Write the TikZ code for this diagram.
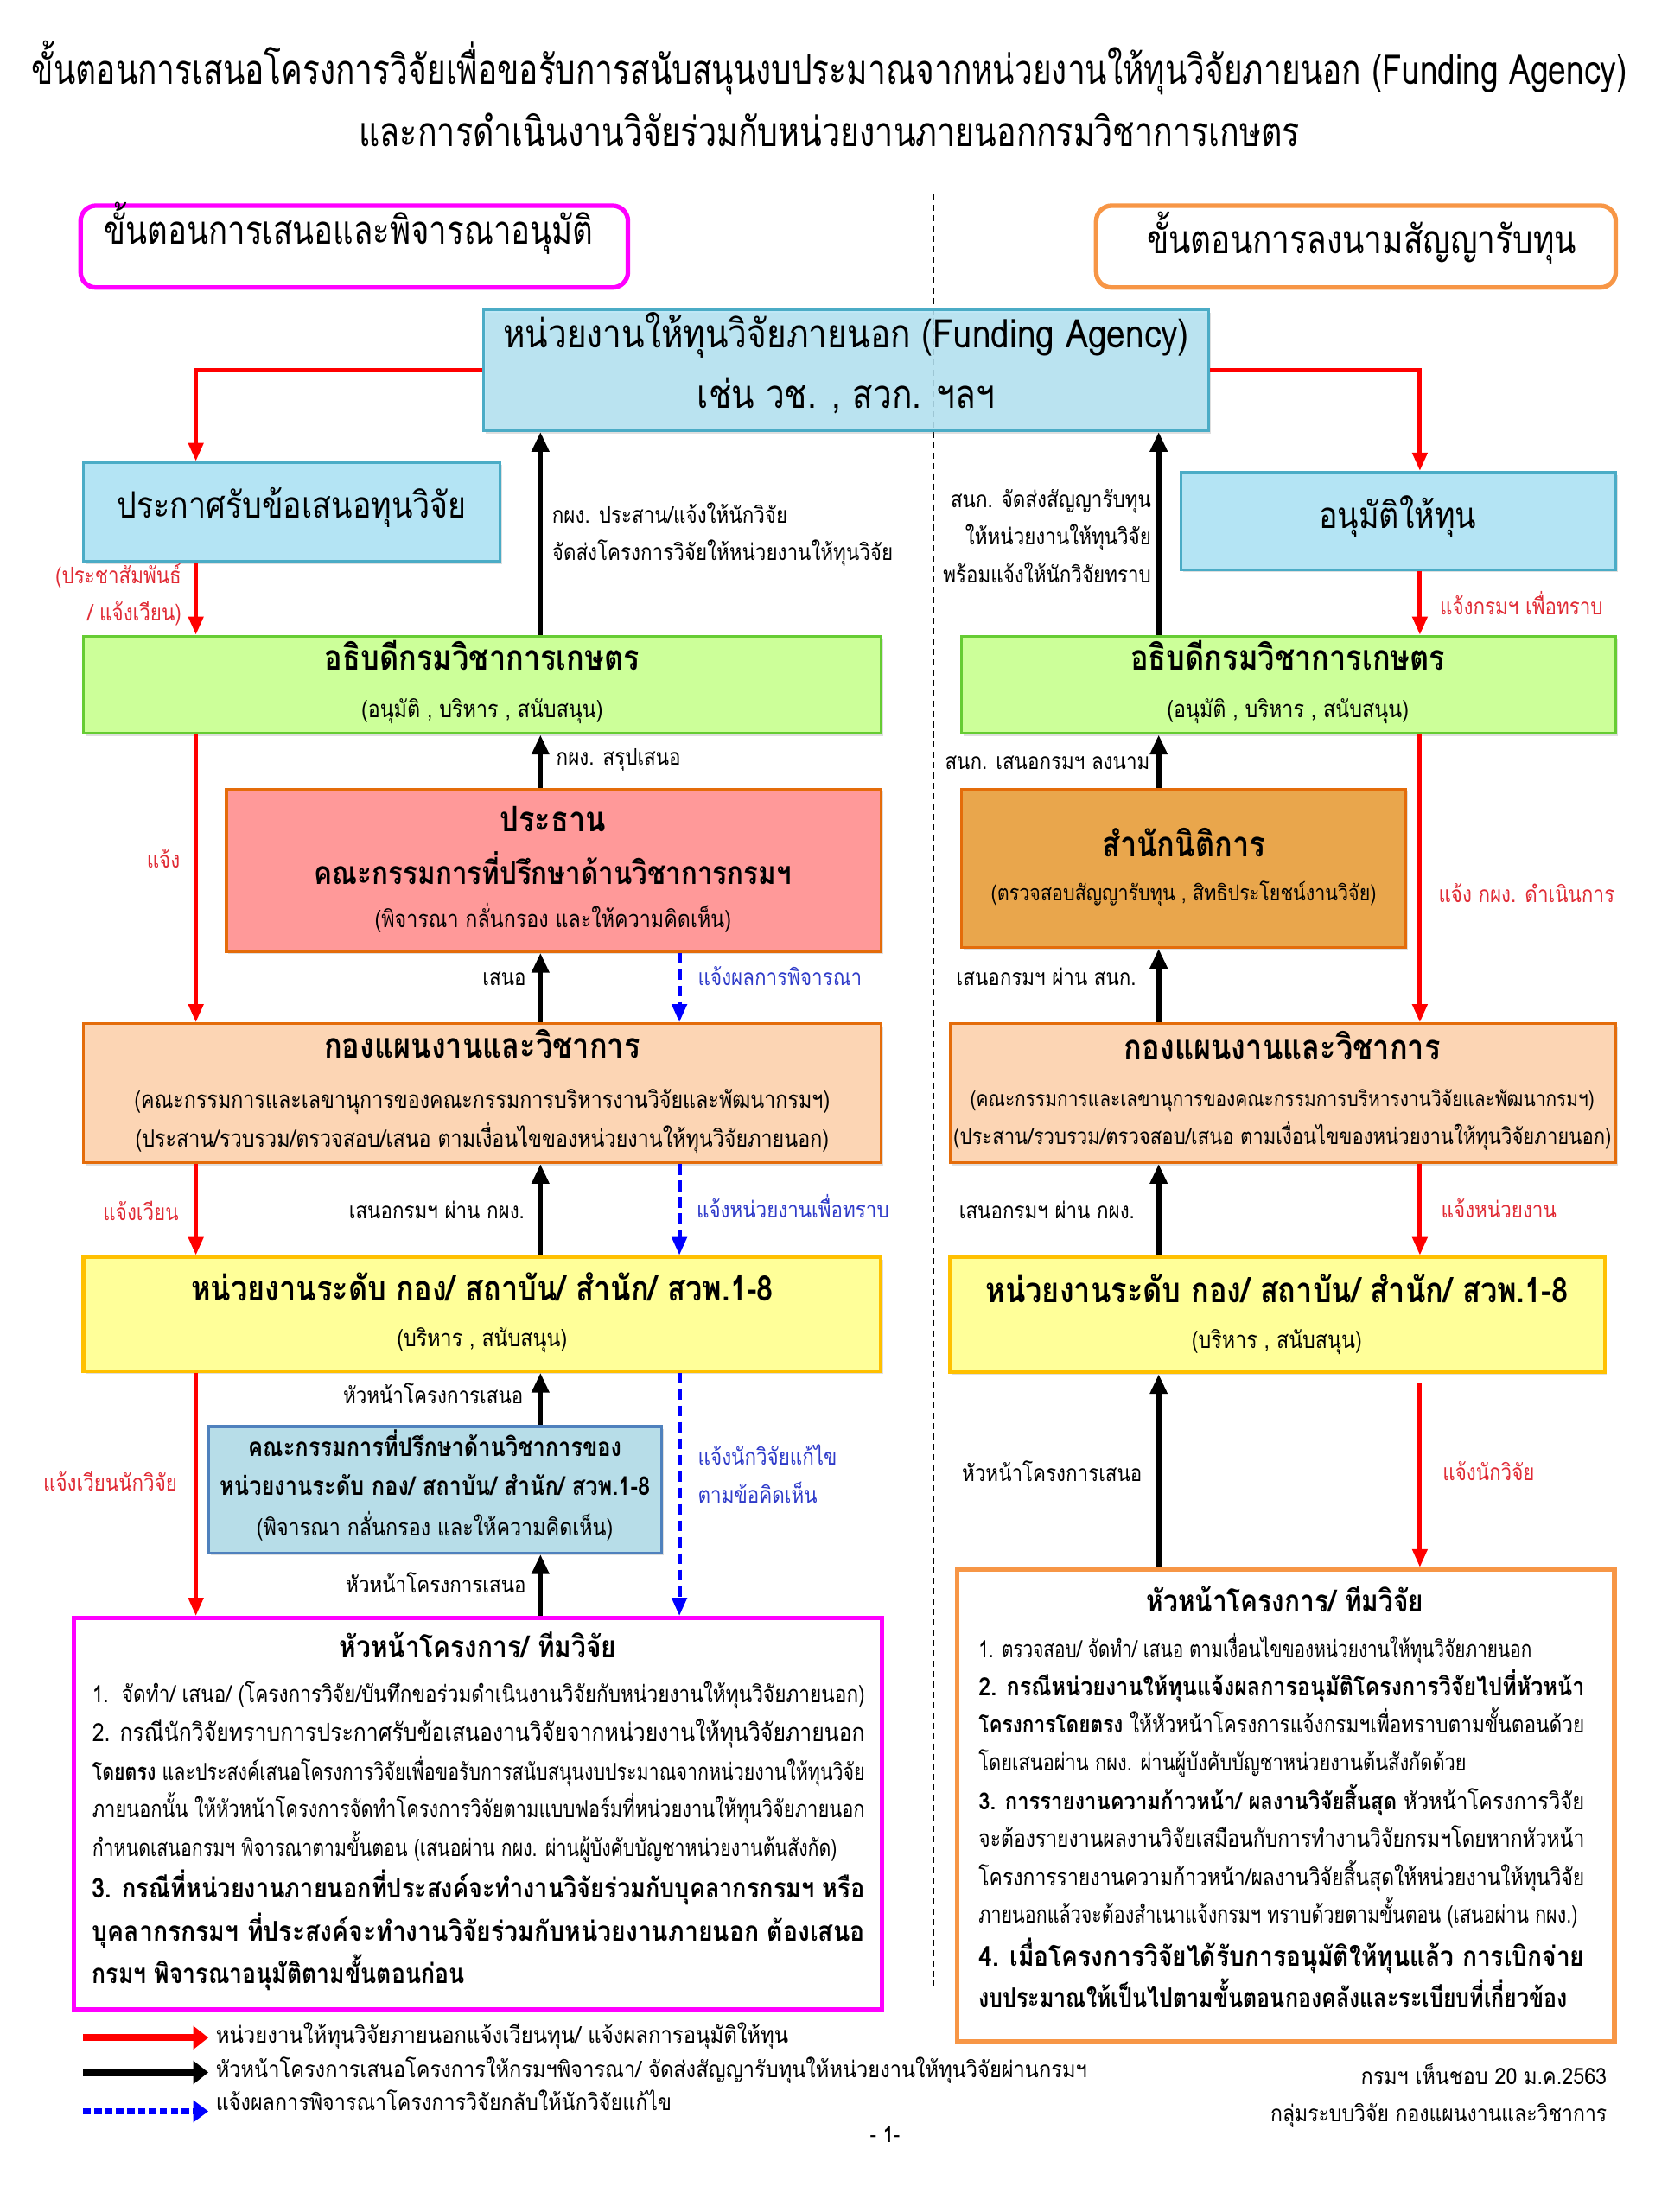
\documentclass[tikz,border=0pt]{standalone}
\usepackage{fontspec}
\setmainfont[Script=Thai,FakeStretch=0.85]{Loma}
\usepackage{graphicx}
\usepackage{tikz}
\usetikzlibrary{arrows.meta,calc,shadows}
\usepackage{xcolor}
\definecolor{colorff00ff}{HTML}{FF00FF}
\definecolor{colorf79646}{HTML}{F79646}
\definecolor{colorb4e4f4}{HTML}{B4E4F4}
\definecolor{color4bacc6}{HTML}{4BACC6}
\definecolor{colorccff99}{HTML}{CCFF99}
\definecolor{color66cc33}{HTML}{66CC33}
\definecolor{colorff9999}{HTML}{FF9999}
\definecolor{colore46c0a}{HTML}{E46C0A}
\definecolor{colore9a64c}{HTML}{E9A64C}
\definecolor{colorfcd5b4}{HTML}{FCD5B4}
\definecolor{colorffff99}{HTML}{FFFF99}
\definecolor{colorffc000}{HTML}{FFC000}
\definecolor{colorb7dde8}{HTML}{B7DDE8}
\definecolor{color4f81bd}{HTML}{4F81BD}
\definecolor{colore02b35}{HTML}{E02B35}
\definecolor{color2f3bc9}{HTML}{2F3BC9}
\newdimen\px \px=0.16075mm
\newcommand{\fitw}[2]{\resizebox{#1\px}{\height}{#2}}

\tikzset{
  box/.style={shape=rectangle, line width=0.9pt, inner sep=0pt, drop shadow={shadow xshift=0.7pt, shadow yshift=-0.9pt, opacity=0.25}},
  skybox/.style={box, fill=colorb4e4f4, draw=color4bacc6},
  greenbox/.style={box, fill=colorccff99, draw=color66cc33, minimum height=70\px},
  peachbox/.style={box, fill=colorfcd5b4, draw=colore46c0a, minimum height=100\px},
  yellowbox/.style={box, fill=colorffff99, draw=colorffc000, line width=1.2pt},
  headbox/.style={shape=rectangle, rounded corners=1.8mm, line width=1.5pt, minimum height=59\px},
  txt/.style={inner sep=0pt, anchor=mid},
  ttl/.style={txt, font=\fontsize{11.5}{11.5}\selectfont\bfseries},
  sub/.style={txt, font=\fontsize{7.8}{7.8}\selectfont},
  lbl/.style={inner sep=0pt, font=\fontsize{7.5}{12.3}\selectfont},
  redlbl/.style={lbl, text=colore02b35},
  blulbl/.style={lbl, text=color2f3bc9},
  para/.style={inner sep=0pt, anchor=mid west, font=\fontsize{7.8}{7.8}\selectfont},
  parab/.style={para, font=\fontsize{9}{9}\selectfont\bfseries},
  redarr/.style={draw=red, line width=1.4pt, ->},
  blkarr/.style={draw=black, line width=1.8pt, -{Triangle[length=6.5pt,width=5.5pt]}},
  bluarr/.style={draw=blue, line width=1.4pt, dash pattern=on 3.6pt off 1.8pt, ->},
}

\begin{document}
\begin{tikzpicture}
    [x=0.16075mm, y=-0.16075mm,
     >={Triangle[length=6pt,width=4.8pt]},  % arrow tips
    ]
\useasboundingbox (0,0) rectangle (1200,1592.5);

% title
\node[txt, font=\fontsize{13.5}{13.5}\selectfont] (title1) at (597,55) {\fitw{1148}{ขั้นตอนการเสนอโครงการวิจัยเพื่อขอรับการสนับสนุนงบประมาณจากหน่วยงานให้ทุนวิจัยภายนอก (Funding Agency)}};
\node[txt, font=\fontsize{13.5}{13.5}\selectfont] (title2) at (597,100) {\fitw{677}{และการดำเนินงานวิจัยร่วมกับหน่วยงานภายนอกกรมวิชาการเกษตร}};

% divider
\coordinate (divtop) at (672,140);
\coordinate (divbot) at (672,1432);
\draw[line width=0.6pt, dash pattern=on 2pt off 1.4pt] (divtop) -- (divbot);

% column positions of the connectors
\coordinate (colA) at (141,0);
\coordinate (colB) at (389,0);
\coordinate (colC) at (489,0);
\coordinate (colD) at (834,0);
\coordinate (colE) at (1022,0);

% headers
\node[headbox, draw=colorff00ff, minimum width=394\px] (headL) at (255,177.5) {};
\node[txt, font=\fontsize{13}{13}\selectfont] (headLt) at (251,170) {\fitw{352}{ขั้นตอนการเสนอและพิจารณาอนุมัติ}};
\node[headbox, draw=colorf79646, minimum width=374\px] (headR) at (976,177.5) {};
\node[txt, font=\fontsize{13}{13}\selectfont] (headRt) at (980,177) {\fitw{309}{ขั้นตอนการลงนามสัญญารับทุน}};

% boxes
\node[skybox, fill opacity=0.85, minimum width=522\px, minimum height=87\px] (fund) at (609,266.5) {};
\node[skybox, minimum width=300\px, minimum height=71\px] (call) at (210,368.5) {};
\node[skybox, minimum width=313\px, minimum height=70\px] (approve) at (1006.5,375) {};
\node[greenbox, minimum width=574\px] (dirL) at (347,493) {};
\node[greenbox, minimum width=471\px] (dirR) at (927.5,493) {};
\node[box, fill=colorff9999, draw=colore46c0a, minimum width=471\px, minimum height=117\px] (chair) at (398.5,626.5) {};
\node[box, fill=colore9a64c, draw=colore46c0a, minimum width=320\px, minimum height=114\px] (legal) at (852,625) {};
\node[peachbox, minimum width=574\px] (planL) at (347,787) {};
\node[peachbox, minimum width=479\px] (planR) at (923.5,787) {};
\node[yellowbox, minimum width=574\px, minimum height=82\px] (unitL) at (347,946) {};
\node[yellowbox, minimum width=471\px, minimum height=83\px] (unitR) at (919.5,946.5) {};
\node[box, fill=colorb7dde8, draw=color4f81bd, minimum width=326\px, minimum height=91\px] (comm) at (313,1072.5) {};
\node[shape=rectangle, draw=colorff00ff, fill=white, line width=1.5pt, minimum width=582\px, minimum height=282\px] (teamL) at (344,1306) {};
\node[shape=rectangle, draw=colorf79646, fill=white, line width=1.5pt, minimum width=473\px, minimum height=340\px, drop shadow={shadow xshift=0.7pt, shadow yshift=-0.9pt, opacity=0.25}] (teamR) at (925.5,1300) {};

% box texts
\node[txt, font=\fontsize{13}{13}\selectfont] (fundt1) at (609,245) {หน่วยงานให้ทุนวิจัยภายนอก (Funding Agency)};
\node[txt, font=\fontsize{13}{13}\selectfont] (fundt2) at (609,288) {เช่น วช. , สวก. ฯลฯ};
\node[txt, font=\fontsize{12}{12}\selectfont] (callt) at (210,367) {ประกาศรับข้อเสนอทุนวิจัย};
\node[txt, font=\fontsize{12}{12}\selectfont] (approvet) at (1006,375) {อนุมัติให้ทุน};
\node[ttl] (dirLt) at (347,477) {อธิบดีกรมวิชาการเกษตร};
\node[sub] (dirLs) at (347,511) {(อนุมัติ , บริหาร , สนับสนุน)};
\node[ttl] (dirRt) at (927,477) {อธิบดีกรมวิชาการเกษตร};
\node[sub] (dirRs) at (927,511) {(อนุมัติ , บริหาร , สนับสนุน)};
\node[ttl] (chairt1) at (398,593) {ประธาน};
\node[ttl, font=\fontsize{10.5}{10.5}\selectfont\bfseries] (chairt2) at (398,631) {คณะกรรมการที่ปรึกษาด้านวิชาการกรมฯ};
\node[sub] (chairs) at (398,662) {(พิจารณา กลั่นกรอง และให้ความคิดเห็น)};
\node[ttl] (legalt) at (852,611) {สำนักนิติการ};
\node[sub, font=\fontsize{7.2}{7.2}\selectfont] (legals) at (852,643) {(ตรวจสอบสัญญารับทุน , สิทธิประโยชน์งานวิจัย)};
\node[ttl] (planLt) at (347,756) {กองแผนงานและวิชาการ};
\node[sub] (planLs1) at (347,792) {(คณะกรรมการและเลขานุการของคณะกรรมการบริหารงานวิจัยและพัฒนากรมฯ)};
\node[sub] (planLs2) at (347,820) {(ประสาน/รวบรวม/ตรวจสอบ/เสนอ ตามเงื่อนไขของหน่วยงานให้ทุนวิจัยภายนอก)};
\node[ttl] (planRt) at (923,757) {กองแผนงานและวิชาการ};
\node[sub, font=\fontsize{7}{7}\selectfont] (planRs1) at (923,791) {(คณะกรรมการและเลขานุการของคณะกรรมการบริหารงานวิจัยและพัฒนากรมฯ)};
\node[sub, font=\fontsize{7.4}{7.4}\selectfont] (planRs2) at (923,818) {(ประสาน/รวบรวม/ตรวจสอบ/เสนอ ตามเงื่อนไขของหน่วยงานให้ทุนวิจัยภายนอก)};
\node[ttl] (unitLt) at (347,931) {หน่วยงานระดับ กอง/ สถาบัน/ สำนัก/ สวพ.1-8};
\node[sub] (unitLs) at (347,964) {(บริหาร , สนับสนุน)};
\node[ttl] (unitRt) at (919,932) {หน่วยงานระดับ กอง/ สถาบัน/ สำนัก/ สวพ.1-8};
\node[sub] (unitRs) at (919,965) {(บริหาร , สนับสนุน)};
\node[ttl, font=\fontsize{8.5}{8.5}\selectfont\bfseries] (commt1) at (313,1043) {คณะกรรมการที่ปรึกษาด้านวิชาการของ};
\node[ttl, font=\fontsize{8.5}{8.5}\selectfont\bfseries] (commt2) at (313,1071) {หน่วยงานระดับ กอง/ สถาบัน/ สำนัก/ สวพ.1-8};
\node[sub] (comms) at (313,1100) {(พิจารณา กลั่นกรอง และให้ความคิดเห็น)};

% left team box
\node[ttl, font=\fontsize{10}{10}\selectfont\bfseries] (teamLt) at (344,1188) {หัวหน้าโครงการ/ ทีมวิจัย};
\node[para] (teamL1) at (66,1220) {\fitw{556}{1.\ \ จัดทำ/ เสนอ/ (โครงการวิจัย/บันทึกขอร่วมดำเนินงานวิจัยกับหน่วยงานให้ทุนวิจัยภายนอก)}};
\node[para, font=\fontsize{8.3}{8.3}\selectfont] (teamL2) at (66,1248) {\fitw{556}{2. กรณีนักวิจัยทราบการประกาศรับข้อเสนองานวิจัยจากหน่วยงานให้ทุนวิจัยภายนอก}};
\node[para] (teamL3) at (66,1276) {\fitw{556}{\textbf{โดยตรง} และประสงค์เสนอโครงการวิจัยเพื่อขอรับการสนับสนุนงบประมาณจากหน่วยงานให้ทุนวิจัย}};
\node[para] (teamL4) at (66,1303) {\fitw{556}{ภายนอกนั้น ให้หัวหน้าโครงการจัดทำโครงการวิจัยตามแบบฟอร์มที่หน่วยงานให้ทุนวิจัยภายนอก}};
\node[para] (teamL5) at (66,1331) {\fitw{536}{กำหนดเสนอกรมฯ พิจารณาตามขั้นตอน (เสนอผ่าน กผง. ผ่านผู้บังคับบัญชาหน่วยงานต้นสังกัด)}};
\node[parab] (teamL6) at (66,1361) {\fitw{556}{3. กรณีที่หน่วยงานภายนอกที่ประสงค์จะทำงานวิจัยร่วมกับบุคลากรกรมฯ หรือ}};
\node[parab] (teamL7) at (66,1392) {\fitw{556}{บุคลากรกรมฯ ที่ประสงค์จะทำงานวิจัยร่วมกับหน่วยงานภายนอก ต้องเสนอ}};
\node[parab] (teamL8) at (66,1422) {\fitw{268}{กรมฯ พิจารณาอนุมัติตามขั้นตอนก่อน}};

% right team box
\node[ttl, font=\fontsize{10}{10}\selectfont\bfseries] (teamRt) at (925,1155) {หัวหน้าโครงการ/ ทีมวิจัย};
\node[para] (teamR1) at (704,1188) {\fitw{398}{1. ตรวจสอบ/ จัดทำ/ เสนอ ตามเงื่อนไขของหน่วยงานให้ทุนวิจัยภายนอก}};
\node[para, font=\fontsize{8.3}{8.3}\selectfont\bfseries] (teamR2) at (704,1215) {\fitw{436}{2. กรณีหน่วยงานให้ทุนแจ้งผลการอนุมัติโครงการวิจัยไปที่หัวหน้า}};
\node[para] (teamR3) at (704,1242) {\fitw{436}{\textbf{โครงการโดยตรง} ให้หัวหน้าโครงการแจ้งกรมฯเพื่อทราบตามขั้นตอนด้วย}};
\node[para] (teamR4) at (704,1269) {\fitw{351}{โดยเสนอผ่าน กผง. ผ่านผู้บังคับบัญชาหน่วยงานต้นสังกัดด้วย}};
\node[para] (teamR5) at (704,1297) {\fitw{436}{\textbf{3. การรายงานความก้าวหน้า/ ผลงานวิจัยสิ้นสุด} หัวหน้าโครงการวิจัย}};
\node[para] (teamR6) at (704,1324) {\fitw{436}{จะต้องรายงานผลงานวิจัยเสมือนกับการทำงานวิจัยกรมฯโดยหากหัวหน้า}};
\node[para] (teamR7) at (704,1352) {\fitw{436}{โครงการรายงานความก้าวหน้า/ผลงานวิจัยสิ้นสุดให้หน่วยงานให้ทุนวิจัย}};
\node[para] (teamR8) at (704,1379) {\fitw{431}{ภายนอกแล้วจะต้องสำเนาแจ้งกรมฯ ทราบด้วยตามขั้นตอน (เสนอผ่าน กผง.)}};
\node[parab] (teamR9) at (704,1410) {\fitw{436}{4. เมื่อโครงการวิจัยได้รับการอนุมัติให้ทุนแล้ว การเบิกจ่าย}};
\node[parab] (teamR10) at (704,1440) {\fitw{424}{งบประมาณให้เป็นไปตามขั้นตอนกองคลังและระเบียบที่เกี่ยวข้อง}};

% connectors, left side
\draw[redarr] (fund.west) -| (call.north -| colA);
\draw[redarr] (call.south -| colA) -- (dirL.north -| colA);
\draw[blkarr] (dirL.north -| colB) -- (fund.south -| colB);
\draw[blkarr] (chair.north -| colB) -- (dirL.south -| colB);
\draw[redarr] (dirL.south -| colA) -- (planL.north -| colA);
\draw[blkarr] (planL.north -| colB) -- (chair.south -| colB);
\draw[bluarr] (chair.south -| colC) -- (planL.north -| colC);
\draw[redarr] (planL.south -| colA) -- (unitL.north -| colA);
\draw[blkarr] (unitL.north -| colB) -- (planL.south -| colB);
\draw[bluarr] (planL.south -| colC) -- (unitL.north -| colC);
\draw[blkarr] (comm.north -| colB) -- (unitL.south -| colB);
\draw[blkarr] (teamL.north -| colB) -- (comm.south -| colB);
\draw[bluarr] (unitL.south -| colC) -- (teamL.north -| colC);
\draw[redarr] (unitL.south -| colA) -- (teamL.north -| colA);

% connectors, right side
\draw[redarr] (fund.east) -| (approve.north -| colE);
\draw[blkarr] (dirR.north -| colD) -- (fund.south -| colD);
\draw[redarr] (approve.south -| colE) -- (dirR.north -| colE);
\draw[blkarr] (legal.north -| colD) -- (dirR.south -| colD);
\draw[redarr] (dirR.south -| colE) -- (planR.north -| colE);
\draw[blkarr] (planR.north -| colD) -- (legal.south -| colD);
\draw[blkarr] (unitR.north -| colD) -- (planR.south -| colD);
\draw[redarr] (planR.south -| colE) -- (unitR.north -| colE);
\draw[blkarr] (teamR.north -| colD) -- (unitR.south -| colD);
\draw[redarr, shorten <=3pt] (unitR.south -| colE) -- (teamR.north -| colE);

% connector labels, left side
\node[redlbl, anchor=east, align=right] (lblPr) at (131,428) {(ประชาสัมพันธ์\\/ แจ้งเวียน)};
\node[redlbl, anchor=mid east] (lblNote) at (130,619) {แจ้ง};
\node[redlbl, anchor=mid east] (lblCirc) at (129,873) {แจ้งเวียน};
\node[redlbl, anchor=mid east] (lblCircR) at (128,1068) {แจ้งเวียนนักวิจัย};
\node[lbl, anchor=west, align=left] (lblSend) at (397,385) {กผง. ประสาน/แจ้งให้นักวิจัย\\จัดส่งโครงการวิจัยให้หน่วยงานให้ทุนวิจัย};
\node[lbl, anchor=mid west] (lblSum) at (400,545) {กผง. สรุปเสนอ};
\node[lbl, anchor=mid east] (lblProp) at (379,704) {เสนอ};
\node[lbl, anchor=mid east] (lblViaL) at (378,872) {เสนอกรมฯ ผ่าน กผง.};
\node[lbl, anchor=mid east] (lblHeadA) at (377,1005) {หัวหน้าโครงการเสนอ};
\node[lbl, anchor=mid east] (lblHeadB) at (379,1141) {หัวหน้าโครงการเสนอ};
\node[blulbl, anchor=mid west] (lblRes) at (502,704) {แจ้งผลการพิจารณา};
\node[blulbl, anchor=mid west] (lblUnit) at (501,871) {แจ้งหน่วยงานเพื่อทราบ};
\node[blulbl, anchor=west, align=left] (lblFix) at (502,1061) {แจ้งนักวิจัยแก้ไข\\ตามข้อคิดเห็น};

% connector labels, right side
\node[lbl, anchor=east, align=right] (lblCon) at (829,386) {สนก. จัดส่งสัญญารับทุน\\ให้หน่วยงานให้ทุนวิจัย\\พร้อมแจ้งให้นักวิจัยทราบ};
\node[redlbl, anchor=mid west] (lblDept) at (1036,437) {แจ้งกรมฯ เพื่อทราบ};
\node[lbl, anchor=mid east] (lblSign) at (828,548) {สนก. เสนอกรมฯ ลงนาม};
\node[redlbl, anchor=mid west] (lblDo) at (1035,644) {แจ้ง กผง. ดำเนินการ};
\node[lbl, anchor=mid west] (lblViaS) at (688,704) {เสนอกรมฯ ผ่าน สนก.};
\node[lbl, anchor=mid west] (lblViaR) at (690,872) {เสนอกรมฯ ผ่าน กผง.};
\node[redlbl, anchor=mid west] (lblUnitR) at (1037,871) {แจ้งหน่วยงาน};
\node[lbl, anchor=mid west] (lblHeadC) at (692,1061) {หัวหน้าโครงการเสนอ};
\node[redlbl, anchor=mid west] (lblRes2) at (1038,1060) {แจ้งนักวิจัย};

% legend
\coordinate (legA0) at (60,1467);
\coordinate (legA1) at (150,1467);
\coordinate (legB0) at (60,1492);
\coordinate (legB1) at (150,1492);
\coordinate (legC0) at (60,1520);
\coordinate (legC1) at (150,1520);
\draw[draw=red, line width=2.3pt, -{Triangle[length=5pt,width=7.5pt]}] (legA0) -- (legA1);
\draw[draw=black, line width=2.3pt, -{Triangle[length=5pt,width=7.5pt]}] (legB0) -- (legB1);
\draw[draw=blue, line width=2pt, dash pattern=on 2.4pt off 1.2pt, -{Triangle[length=5pt,width=7pt]}] (legC0) -- (legC1);
\node[lbl, anchor=mid west] (legAt) at (155,1465) {\fitw{412}{หน่วยงานให้ทุนวิจัยภายนอกแจ้งเวียนทุน/ แจ้งผลการอนุมัติให้ทุน}};
\node[lbl, anchor=mid west] (legBt) at (155,1490) {\fitw{627}{หัวหน้าโครงการเสนอโครงการให้กรมฯพิจารณา/ จัดส่งสัญญารับทุนให้หน่วยงานให้ทุนวิจัยผ่านกรมฯ}};
\node[lbl, anchor=mid west] (legCt) at (155,1514) {\fitw{328}{แจ้งผลการพิจารณาโครงการวิจัยกลับให้นักวิจัยแก้ไข}};

% footer
\node[lbl, anchor=mid east] (okby) at (1157,1495) {\fitw{177}{กรมฯ เห็นชอบ 20 ม.ค.2563}};
\node[lbl, anchor=mid east] (group) at (1157,1522) {\fitw{242}{กลุ่มระบบวิจัย กองแผนงานและวิชาการ}};
\node[lbl, anchor=mid] (page) at (637,1537) {- 1-};

\end{tikzpicture}
\end{document}
